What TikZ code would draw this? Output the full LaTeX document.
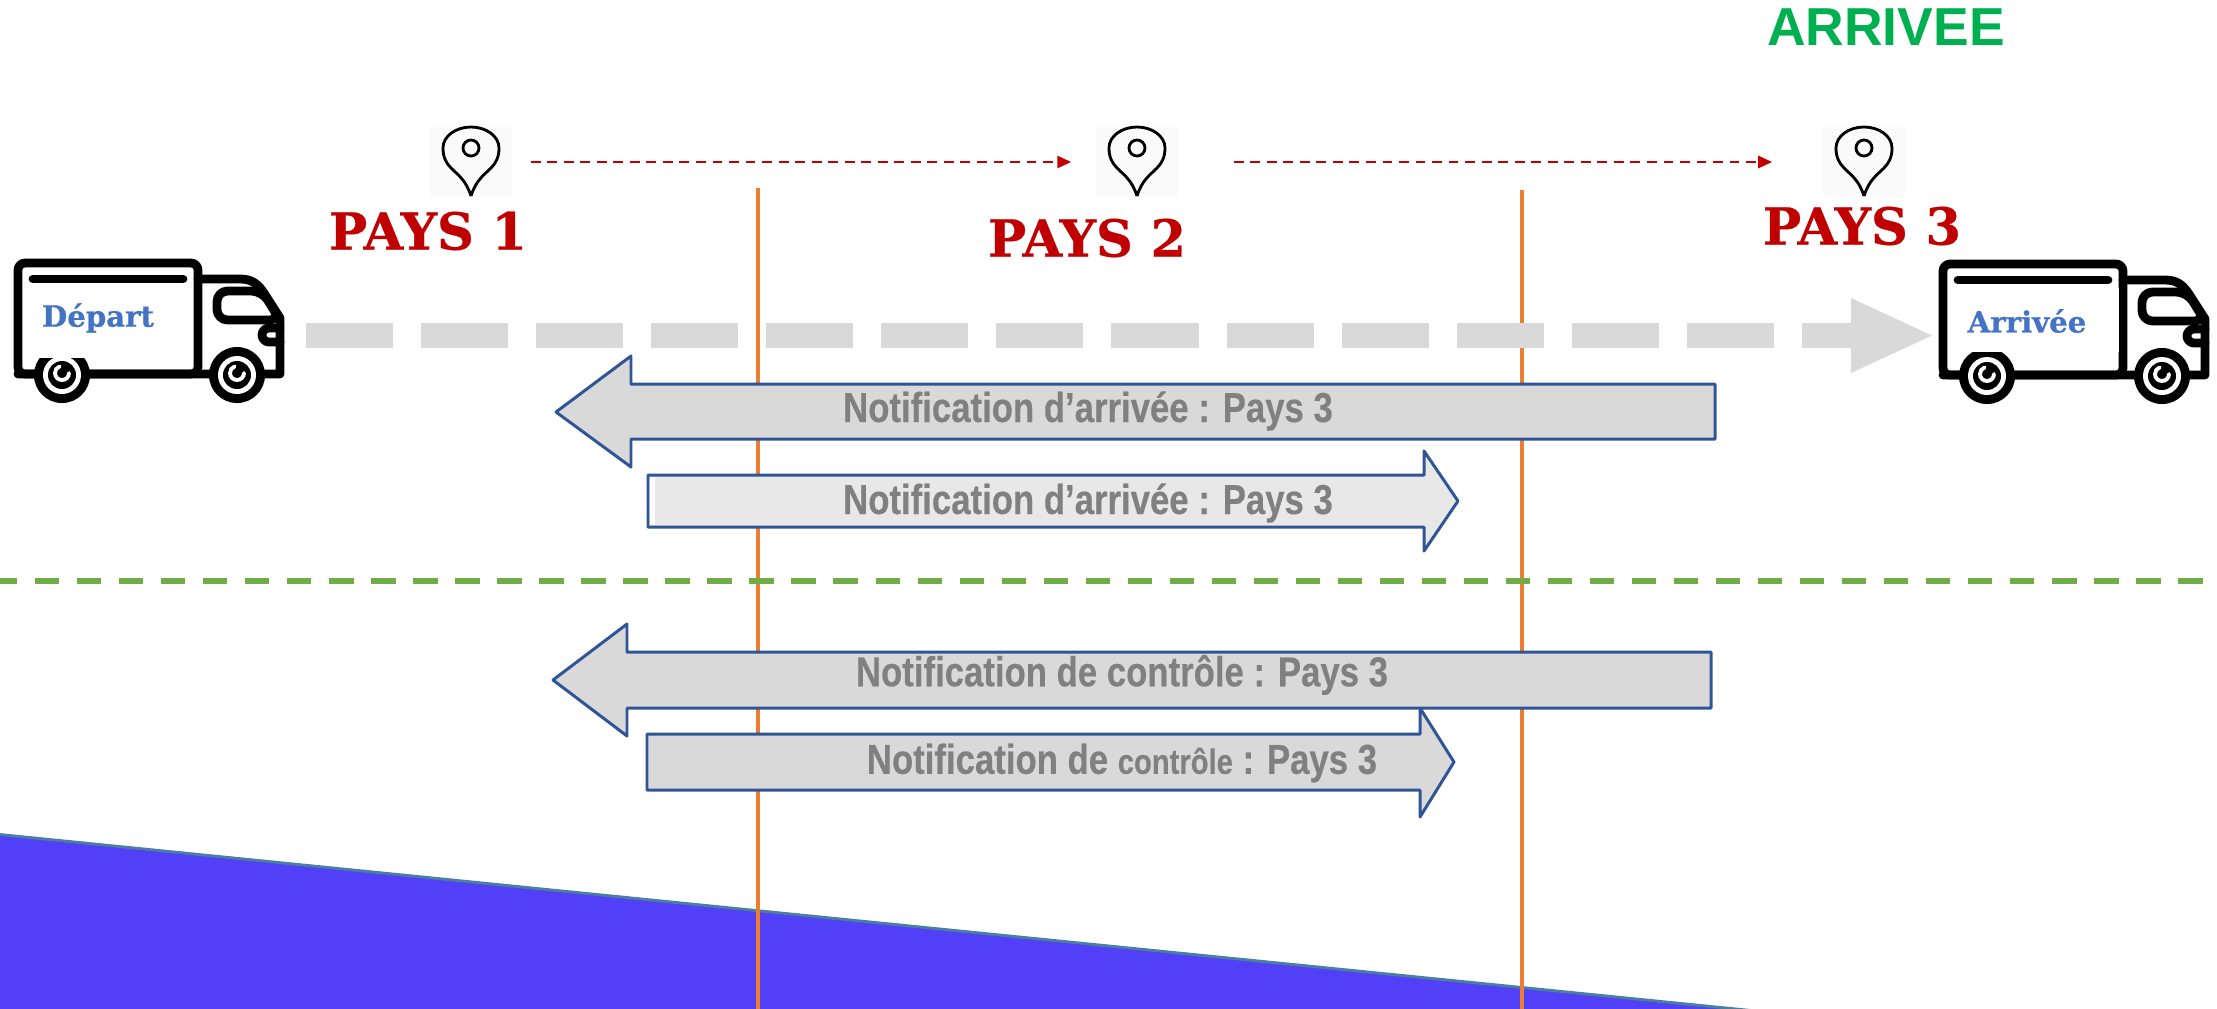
\documentclass[tikz,border=0pt]{standalone}
\usepackage{xcolor}
\usepackage{fontspec}
\setmainfont{Liberation Sans}
\newfontfamily\paysfont[BoldFeatures={FakeBold=.6}]{DejaVu Serif}
\newfontfamily\notiffont[FakeStretch=.83,BoldFeatures={FakeBold=.3}]{Liberation Sans}
\usepackage{tikz}
\usetikzlibrary{arrows.meta}

\definecolor{paysred}{HTML}{C00000}
\definecolor{arrowblue}{HTML}{2F5597}
\definecolor{lineorange}{HTML}{ED7D31}
\definecolor{sepgreen}{HTML}{70AD47}
\definecolor{arrivegreen}{HTML}{00B050}
\definecolor{labelblue}{HTML}{4472C4}
\definecolor{floorblue}{HTML}{5240F8}
\definecolor{flooredge}{HTML}{4A7F9F}

\tikzset{
  paystext/.style={font=\paysfont\bfseries\fontsize{14.5}{16}\selectfont,text=paysred,inner sep=0pt},
  trucktext/.style={font=\paysfont\bfseries\fontsize{8.3}{10}\selectfont,text=labelblue,inner sep=0pt},
  notiftext/.style={font=\notiffont\bfseries\fontsize{11.9}{14}\selectfont,text=black!50,inner sep=0pt},
  notifarrow/.style={draw=arrowblue,fill=black!15,line width=.85pt,line join=round},
  pinbox/.style={fill=black!2,minimum width=.82cm,minimum height=.69cm,inner sep=0pt},
  hopline/.style={draw=paysred,line width=.75pt,dash pattern=on 2.8pt off 1.9pt,-{Triangle[length=1.4mm,width=1.2mm]}},
  truckline/.style={line width=2.5pt,line join=round,line cap=round},
  truck/.pic={
    \draw[truckline,rounded corners=2pt] (18,263) rectangle (198,374);
    \draw[truckline] (33,279)--(183,279);
    \draw[truckline] (198,279)--(240,279) .. controls (252,279) and (258,284) .. (264,293)--(280,318)--(280,374)--(18,374);
    \draw[truckline,rounded corners=3pt] (217,291)--(262,291)--(280,320)--(217,320)--cycle;
    \draw[truckline,rounded corners=2pt] (280,328)--(262,328)--(262,342)--(280,342);
    \foreach \wx in {62,237}{
      \fill (\wx,375) circle (.28cm);
      \fill[white] (\wx,375) circle (.19cm);
      \fill (\wx,375) circle (.14cm);
      \draw[white,line width=1.1pt,line cap=round] (\wx+7,373) arc (0:-250:.07cm);
    }
  }
}

\begin{document}
\begin{tikzpicture}[x=.01cm,y=-.01cm]
\useasboundingbox (0,0) rectangle (2217,1008);
% floor
\fill[floorblue] (-5,834)--(1766,1012)--(-5,1012)--cycle;
\draw[flooredge,line width=.8pt] (-5,834)--(1766,1012);
% borders between the countries
\coordinate (bordA) at (758,188);
\coordinate (bordAend) at (758,1012);
\coordinate (bordB) at (1522,190);
\coordinate (bordBend) at (1522,1012);
\draw[lineorange,line width=1.1pt] (bordA)--(bordAend);
\draw[lineorange,line width=1.1pt] (bordB)--(bordBend);
% trucks
\pic at (0,0) {truck};
\pic at (1925,1) {truck};
\fill[white] (23,288) rectangle (193,358);
\fill[white] (1948,288) rectangle (2119,352);
\node[trucktext] (depart) at (98,318){Départ};
\node[trucktext] (arrivee) at (2027,321){Arrivée};
% road
\coordinate (roadA) at (306,335.5);
\coordinate (roadB) at (1935,335.5);
\draw[black!15,line width=.25cm,dash pattern=on .87cm off .28cm,-{Triangle[length=.84cm,width=.68cm]}] (roadA)--(roadB);
% pins
\foreach \n/\x in {pinA/471,pinB/1137,pinC/1864}{
  \node[pinbox] (\n) at (\x,162){};
  \draw[line width=.8pt] (\x,196) .. controls (\x-5,180) and (\x-13,175) .. (\x-20,168) .. controls (\x-25,163) and (\x-28,157) .. (\x-28,148) .. controls (\x-28,136) and (\x-15,127) .. (\x,127) .. controls (\x+15,127) and (\x+28,136) .. (\x+28,148) .. controls (\x+28,157) and (\x+25,163) .. (\x+20,168) .. controls (\x+13,175) and (\x+5,180) .. (\x,196);
  \draw[line width=.8pt] (\x,148) circle (.08cm);
}
\draw[hopline,shorten <=.18cm,shorten >=.24cm] (pinA)--(pinB);
\draw[hopline,shorten <=.55cm,shorten >=.50cm] (pinB)--(pinC);
\node[paystext] (paysA) at (428,231){PAYS 1};
\node[paystext] (paysB) at (1087,238){PAYS 2};
\node[paystext] (paysC) at (1862,226){PAYS 3};
\node[font=\bfseries\fontsize{15.2}{18}\selectfont,text=arrivegreen,inner sep=0pt] (arrive) at (1886,27){ARRIVEE};
% green separator
\coordinate (sepA) at (0,581);
\coordinate (sepB) at (2217,581);
\draw[sepgreen,line width=.06cm,dash pattern=on .243cm off .177cm,dash phase=.07cm] (sepA)--(sepB);
% notifications
\draw[notifarrow] (556,412)--(631,356)--(631,384)--(1715,384)--(1715,439)--(631,439)--(631,467)--cycle;
\draw[notifarrow,fill=black!9] (648,475)--(1424,475)--(1424,451)--(1458,501)--(1424,551)--(1424,527)--(648,527)--cycle;
\fill[white] (650,477) rectangle (655,525);
\draw[notifarrow] (647,734)--(1420,734)--(1420,708)--(1454,762)--(1420,817)--(1420,790)--(647,790)--cycle;
\draw[notifarrow] (553,680)--(627,624)--(627,652)--(1711,652)--(1711,708)--(627,708)--(627,736)--cycle;
\node[notiftext] (notifA) at (1088,411){Notification d’arrivée : Pays 3};
\node[notiftext] (notifB) at (1088,503){Notification d’arrivée : Pays 3};
\node[notiftext] (notifC) at (1122,675){Notification de contrôle : Pays 3};
\node[notiftext] (notifD) at (1122,763){Notification de {\fontsize{10}{12}\selectfont contrôle} : Pays 3};
\end{tikzpicture}
\end{document}
